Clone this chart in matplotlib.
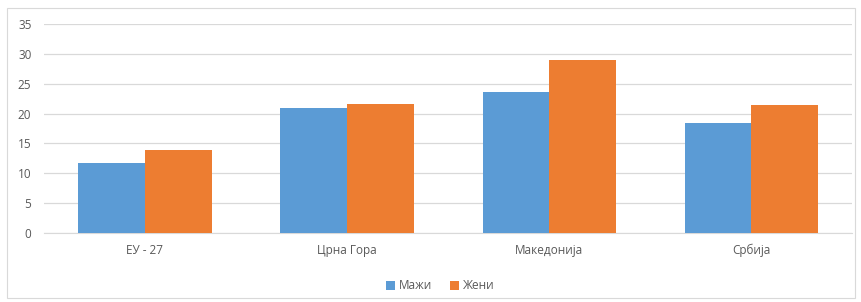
import matplotlib.pyplot as plt
import numpy as np
from matplotlib.patches import Rectangle

categories = ['ЕУ - 27', 'Црна Гора', 'Македонија', 'Србија']
men = [11.7, 20.9, 23.6, 18.4]
women = [13.9, 21.6, 28.9, 21.5]

plt.rcParams['font.family'] = ['Open Sans', 'DejaVu Sans']

fig = plt.figure(figsize=(8.61, 3.02), dpi=100)
fig.patches.append(Rectangle((0.008, 0.013), 0.985, 0.96, transform=fig.transFigure,
                             fill=False, edgecolor='#d9d9d9', linewidth=0.8))
ax = fig.add_axes([0.051, 0.2285, 0.939, 0.692])

x = np.arange(len(categories))
w = 0.33
ax.bar(x - w / 2, men, w, color='#5b9bd5', label='Мажи', zorder=3)
ax.bar(x + w / 2, women, w, color='#ed7d31', label='Жени', zorder=3)

ax.set_xlim(-0.5, len(categories) - 0.5)
ax.set_ylim(0, 35)
ax.set_yticks(range(0, 36, 5))
ax.set_xticks(x)
ax.set_xticklabels(categories)
ax.grid(axis='y', color='#d9d9d9', linewidth=0.9, zorder=0)
for s in ['top', 'right', 'left']:
    ax.spines[s].set_visible(False)
ax.spines['bottom'].set_color('#d9d9d9')
ax.tick_params(axis='both', length=0, labelsize=8.5, colors='#595959', pad=8)
ax.tick_params(axis='y', pad=9)

ax.legend(loc='upper center', bbox_to_anchor=(0.49, -0.17), ncol=2, frameon=False,
          fontsize=8.5, labelcolor='#595959', handlelength=0.8, handleheight=0.8,
          handletextpad=0.3, columnspacing=1.5)

fig.savefig('out.png', dpi=100)
